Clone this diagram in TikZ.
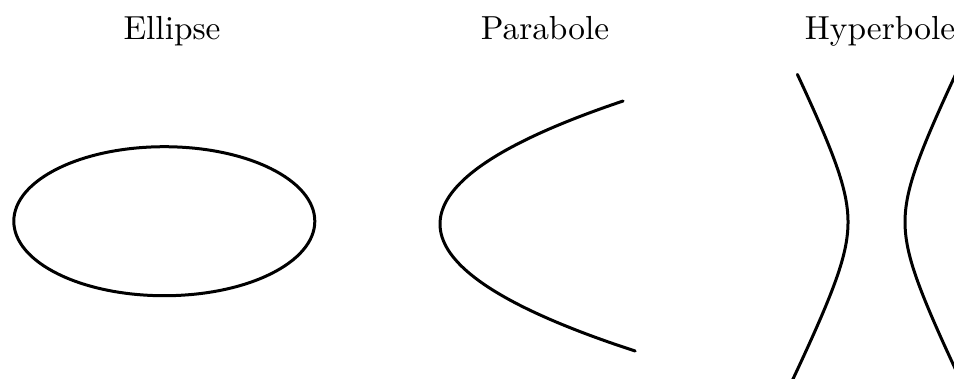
\documentclass[tikz,border=0pt]{standalone}
\begin{document}
\begin{tikzpicture}
% conic sections, coordinates in pixels of a 954x378 frame
\def\px{0.30pt}
\begin{scope}[x=\px, y=-\px, line cap=round, line join=round]
  \useasboundingbox (0,0) rectangle (954,378);
  \clip (0,0) rectangle (954,378);
  % Titles
  \node[anchor=base] (ellipsetitle) at (172,39) {Ellipse};
  \node[anchor=base] (paraboletitle) at (545,39) {Parabole};
  \node[anchor=base] (hyperboletitle) at (880,39) {Hyperbole};
  % Curves
  \begin{scope}[draw=black, line width=0.9pt]
    % Ellipse
    \draw (164.3,221.2) ellipse [x radius=150.5, y radius=74.5];
    % Parabola, vertex at (440,224)
    \draw plot[domain=-123:127, samples=80, smooth] ({440+0.0121*\x*\x},{224+\x});
    % Hyperbola, two branches
    \draw plot[domain=-1.68:1.76, samples=80, smooth] ({876.5-28.5*cosh(\x)},{222+57*sinh(\x)});
    \draw plot[domain=-1.68:1.76, samples=80, smooth] ({876.5+28.5*cosh(\x)},{222+57*sinh(\x)});
  \end{scope}
\end{scope}
\end{tikzpicture}
\end{document}
